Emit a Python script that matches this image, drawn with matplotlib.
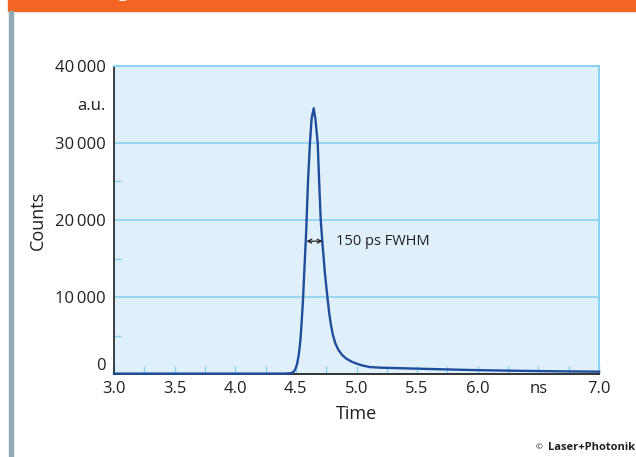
import matplotlib
matplotlib.use("Agg")
import matplotlib.pyplot as plt
import matplotlib.patches as patches
from matplotlib.ticker import MultipleLocator, FixedLocator

plt.rcParams['font.family'] = ['Open Sans', 'DejaVu Sans']

# Données (temps en ns, coups)
temps = [3.0, 3.5, 4.0, 4.3, 4.42, 4.46, 4.48, 4.495, 4.51, 4.525, 4.538, 4.548,
         4.558, 4.57, 4.585, 4.60, 4.616, 4.63, 4.647, 4.662, 4.68, 4.692,
         4.705, 4.72, 4.74, 4.76, 4.775, 4.79, 4.805, 4.825, 4.85, 4.88,
         4.915, 4.96, 5.0, 5.05, 5.11, 5.2, 5.39, 5.61, 5.94, 6.27, 6.6, 7.0]
coups = [50, 50, 50, 50, 60, 120, 260, 600, 1300, 2600, 4500, 6800,
         9400, 13500, 18500, 25000, 30000, 33200, 34500, 33000, 30000, 25000,
         20000, 16800, 13000, 10000, 7900, 6300, 5100, 4000, 3150, 2500,
         2000, 1600, 1350, 1100, 900, 820, 740, 650, 520, 430, 360, 300]

yticks = [0, 10000, 20000, 30000, 35000, 40000]
ylabels = ['0', '10\u2009000', '20\u2009000', '30\u2009000', 'a.u.', '40\u2009000']
xticks = [3.0, 3.5, 4.0, 4.5, 5.0, 5.5, 6.0, 6.5, 7.0]
xlabels = ['3.0', '3.5', '4.0', '4.5', '5.0', '5.5', '6.0', 'ns', '7.0']

texte = '#231f20'
bleu_clair = '#8ad4f2'

fig = plt.figure(figsize=(6.36, 4.57), dpi=100)

# bandeau orange + barre grise
fig.patches.append(patches.Rectangle((8 / 636, 1 - 11 / 457), 1, 11 / 457,
                                     transform=fig.transFigure, color='#f26522', zorder=0))
fig.patches.append(patches.Rectangle((9 / 636, 0), 4 / 636, 1 - 11 / 457,
                                     transform=fig.transFigure, color='#90aab8', zorder=0))
fig.text(117 / 636, 1 + 4 / 457, 'g', color='white', fontsize=16, fontweight='bold',
         va='baseline', ha='left')

ax = fig.add_axes([114 / 636, 1 - 374 / 457, 485 / 636, 308 / 457])
ax.set_facecolor('#dff0fa')

ax.plot(temps, coups, color='#1f4e9c', lw=1.7, zorder=3, clip_on=False,
        solid_joinstyle='round')

ax.set_xlim(3.0, 7.0)
ax.set_ylim(0, 40000)

# grille horizontale
for yv in [10000, 20000, 30000]:
    ax.axhline(yv, color=bleu_clair, lw=1.2, zorder=1)

ax.spines['left'].set_color(texte)
ax.spines['left'].set_linewidth(1.2)
ax.spines['bottom'].set_color('#333333')
ax.spines['bottom'].set_linewidth(1.4)
ax.spines['top'].set_color(bleu_clair)
ax.spines['top'].set_linewidth(1.5)
ax.spines['right'].set_color(bleu_clair)
ax.spines['right'].set_linewidth(1.5)

ax.set_xticks(xticks)
ax.set_xticklabels(xlabels)
ax.xaxis.set_minor_locator(MultipleLocator(0.25))
ax.set_yticks(yticks)
ax.set_yticklabels(ylabels)
ax.yaxis.set_minor_locator(FixedLocator([5000, 15000, 25000, 35000]))

ax.tick_params(axis='x', which='both', direction='in', length=6, width=1,
               color=bleu_clair, labelsize=12, labelcolor=texte, pad=5)
ax.tick_params(axis='y', which='major', length=0, labelsize=12, labelcolor=texte, pad=6)
ax.tick_params(axis='y', which='minor', direction='in', length=5, width=1, color=bleu_clair)
# le "0" est remonté au-dessus de l'axe
ax.get_yticklabels()[0].set_verticalalignment('bottom')

ax.set_xlabel('Time', fontsize=13, color=texte, labelpad=6)
ax.set_ylabel('Counts', fontsize=13, color=texte, labelpad=6)

# largeur à mi-hauteur
ax.annotate('', xy=(4.587, 17250), xytext=(4.72, 17250),
            arrowprops=dict(arrowstyle='<->', color=texte, lw=0.9,
                            shrinkA=0, shrinkB=0, mutation_scale=7), zorder=4)
ax.text(4.83, 17250, '150 ps FWHM', fontsize=10.5, color=texte, va='center', ha='left')

fig.text(635 / 636, 1 - 447 / 457, 'Laser+Photonik', fontsize=8, fontweight='bold',
         color=texte, ha='right', va='center')
fig.text(539 / 636, 1 - 448 / 457, '©', fontsize=6, color=texte, ha='center', va='center')

fig.savefig('out.png', dpi=100)
